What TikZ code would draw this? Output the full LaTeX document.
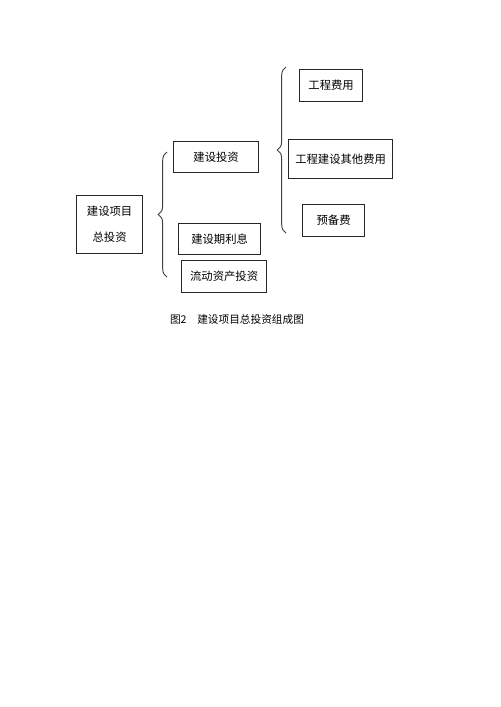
\documentclass[tikz,border=0pt]{standalone}
\usepackage{fontspec}
\newfontfamily\cjk{Noto Sans CJK SC}
\usetikzlibrary{decorations.pathreplacing}
\begin{document}
\begin{tikzpicture}[x=0.75pt,y=-0.75pt,
  box/.style={draw=black!85,line width=0.9pt,font=\cjk\fontsize{8.5pt}{10pt}\selectfont,inner sep=0pt,anchor=north west},
  brc/.style={draw=black!75,line width=0.7pt,decorate,decoration={brace,amplitude=6.5pt}}]
\useasboundingbox (0,0) rectangle (500,707);
\fill[white] (0,0) rectangle (500,707);
\node[box,minimum width=66*0.75pt,minimum height=58*0.75pt,align=center] (total) at (76,195) {建设项目\\[9.5pt]总投资};
\node[box,minimum width=85*0.75pt,minimum height=31*0.75pt] (jstz) at (173,141) {建设投资};
\node[box,minimum width=82*0.75pt,minimum height=31*0.75pt] (lx) at (178,223) {建设期利息};
\node[box,minimum width=85*0.75pt,minimum height=32*0.75pt] (ld) at (181,260) {流动资产投资};
\node[box,minimum width=63*0.75pt,minimum height=32*0.75pt] (gc) at (299,69) {工程费用};
\node[box,minimum width=104*0.75pt,minimum height=39*0.75pt] (qt) at (288,139) {工程建设其他费用};
\node[box,minimum width=62*0.75pt,minimum height=32*0.75pt] (yb) at (302,204) {预备费};
\coordinate (b1s) at (167,277);
\coordinate (b1e) at (167,152);
\coordinate (b2s) at (286,233);
\coordinate (b2e) at (286,67);
\draw[brc] (b1s) -- (b1e);
\draw[brc] (b2s) -- (b2e);
\node[font=\cjk\fontsize{8pt}{9pt}\selectfont,inner sep=0pt] (cap) at (237,319) {图2\hspace{1em}建设项目总投资组成图};
\end{tikzpicture}
\end{document}
